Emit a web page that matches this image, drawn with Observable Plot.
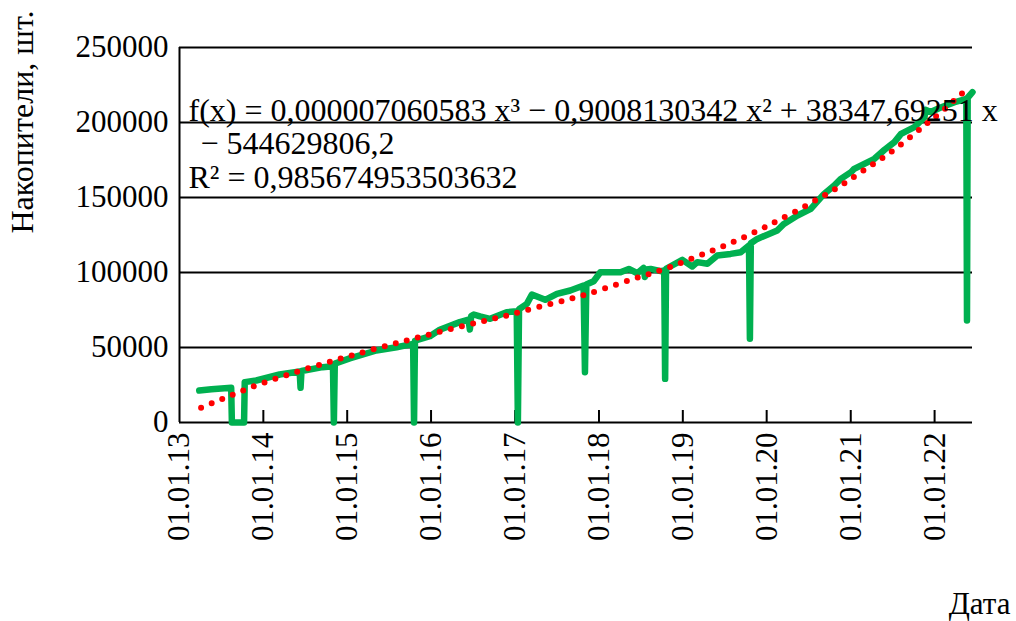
<!DOCTYPE html>
<html>
<head>
<meta charset="utf-8">
<script src="https://cdn.jsdelivr.net/npm/d3@7"></script>
<script src="https://cdn.jsdelivr.net/npm/@observablehq/plot@0.6"></script>
<style>
  html, body { margin: 0; padding: 0; background: #fff; }
</style>
</head>
<body>
<div id="chart"></div>
<script>
// ---- data ----
const seriesDates = [
  "2013-03-28","2013-05-20","2013-08-14","2013-08-17","2013-10-09","2013-10-12","2013-12-01",
  "2014-03-13","2014-06-08","2014-06-12","2014-06-16","2014-09-16","2014-10-31","2014-11-04","2014-11-08",
  "2015-01-12","2015-05-08","2015-08-04","2015-10-15","2015-10-19","2015-10-23","2015-12-27",
  "2016-02-08","2016-05-05","2016-06-12","2016-06-18","2016-06-24","2016-07-05","2016-08-01","2016-09-14","2016-11-25",
  "2017-01-08","2017-01-13","2017-01-18","2017-02-21","2017-03-15","2017-05-12","2017-07-02","2017-08-29","2017-10-26","2017-11-01","2017-11-07","2017-12-09",
  "2018-01-07","2018-04-05","2018-05-11","2018-06-17","2018-07-14","2018-07-20","2018-07-26","2018-08-14","2018-09-27","2018-10-12","2018-10-16","2018-10-20","2018-12-30",
  "2019-02-11","2019-03-05","2019-04-18","2019-05-31","2019-07-28","2019-09-10","2019-10-16","2019-10-20","2019-10-24","2019-11-21",
  "2020-02-16","2020-03-16","2020-05-14","2020-07-11","2020-09-07","2020-10-21","2020-11-19",
  "2021-01-02","2021-01-16","2021-04-14","2021-05-28","2021-07-10","2021-08-08","2021-10-05","2021-11-18","2021-11-22","2021-12-15",
  "2022-01-30","2022-03-29","2022-05-19","2022-05-22","2022-05-25","2022-06-15"
];
const seriesValues = [
  21300,22200,23100,0,0,26900,28000,
  32000,34000,23100,34300,36900,37500,0,39300,
  42700,48000,50200,52400,0,54500,57500,
  61800,66900,68500,62000,71000,72000,70700,69100,73500,
  74200,0,75500,79100,85300,81800,85800,88000,91300,33500,92000,94200,
  100200,100200,102400,99500,103100,97000,102000,102400,100900,101300,29100,102500,108400,
  104000,106900,105800,111300,112400,113500,118000,55800,119500,122400,
  128000,132400,138000,142400,152400,158000,162400,
  166900,169100,175800,181800,186900,192400,196900,203500,208500,207000,
  210200,213500,215800,68000,216500,220200
];

const trendDates = [
  "2013-04-05","2013-08-29","2014-01-21","2014-06-23","2014-11-15","2015-04-17","2015-09-17","2015-12-27",
  "2016-05-27","2016-10-27","2017-03-29","2017-08-29","2018-01-21","2018-06-24","2018-10-03","2019-02-25",
  "2019-07-21","2019-12-10","2020-04-29","2020-09-15","2020-12-11","2021-03-08","2021-06-04","2021-08-30",
  "2021-11-18","2022-02-06","2022-06-03"
];
const trendValues = [
  9800,19100,27500,35100,41800,48400,54700,58700,
  64700,70200,76400,82400,89100,96900,101800,110200,
  119100,129100,140200,152000,160200,169100,178000,188000,
  198000,208000,224000
];

const yTicks = [0, 50000, 100000, 150000, 200000, 250000];
const xTickDates = ["2013-01-01","2014-01-01","2015-01-01","2016-01-01","2017-01-01",
                    "2018-01-01","2019-01-01","2020-01-01","2021-01-01","2022-01-01"];
const xDomain = ["2013-01-01", "2022-06-15"];

const eqLine1 = "f(x) = 0,000007060583 x³ − 0,9008130342 x² + 38347,69251 x";
const eqLine2 = "− 544629806,2";
const eqLine3 = "R² = 0,985674953503632";
const yTitle = "Накопители, шт.";
const xTitle = "Дата";

// ---- build ----
const parse = d3.utcParse("%Y-%m-%d");
const series = seriesDates.map((d, i) => ({date: parse(d), value: seriesValues[i]}));
const trend = trendDates.map((d, i) => ({date: parse(d), value: trendValues[i]}));
const xTicks = xTickDates.map(parse);
const FONT = "Liberation Serif, Times New Roman, serif";

const chart = Plot.plot({
  width: 1016,
  height: 621,
  marginLeft: 179,
  marginRight: 44,
  marginTop: 47,
  marginBottom: 199,
  style: {fontFamily: FONT, fontSize: "31px", color: "#000", background: "#fff", overflow: "visible"},
  x: {type: "utc", domain: xDomain.map(parse)},
  y: {domain: [0, 250000]},
  marks: [
    Plot.ruleY(yTicks.filter(v => v > 0), {stroke: "#000", strokeWidth: 2}),
    Plot.ruleY([0], {stroke: "#000", strokeWidth: 2}),
    Plot.ruleX([xTicks[0]], {stroke: "#000", strokeWidth: 2}),
    Plot.ruleX(xTicks.slice(1), {y1: 0, y2: 8000, stroke: "#000", strokeWidth: 2}),
    Plot.axisY({ticks: yTicks, tickSize: 0, tickPadding: 11, label: null, tickFormat: d => String(d), fontSize: 31}),
    Plot.axisX({ticks: xTicks, tickSize: 0, tickPadding: 10, tickRotate: -90, label: null,
                tickFormat: d3.utcFormat("%d.%m.%y"), fontSize: 31}),
    Plot.line(series, {x: "date", y: "value", stroke: "#00B050", strokeWidth: 6.5,
                       strokeLinejoin: "round", strokeLinecap: "round"}),
    Plot.line(trend, {x: "date", y: "value", curve: "natural", stroke: "#FF0000", strokeWidth: 6,
                      strokeLinecap: "round", strokeDasharray: "0 11.4"}),
    Plot.text([eqLine1], {text: d => d, frameAnchor: "top-left", dx: 9, dy: 73, textAnchor: "start",
                          lineAnchor: "bottom", fontSize: 32, fontFamily: FONT, fill: "#000"}),
    Plot.text([eqLine2], {text: d => d, frameAnchor: "top-left", dx: 21, dy: 106, textAnchor: "start",
                          lineAnchor: "bottom", fontSize: 32, fontFamily: FONT, fill: "#000"}),
    Plot.text([eqLine3], {text: d => d, frameAnchor: "top-left", dx: 9, dy: 140, textAnchor: "start",
                          lineAnchor: "bottom", fontSize: 32, fontFamily: FONT, fill: "#000"}),
    Plot.text([yTitle], {text: d => d, frameAnchor: "top-left", dx: -157, dy: 186, rotate: -90,
                         textAnchor: "start", lineAnchor: "middle", fontSize: 32, fontFamily: FONT, fill: "#000"}),
    Plot.text([xTitle], {text: d => d, frameAnchor: "bottom-right", dx: 38, dy: 191, textAnchor: "end",
                         lineAnchor: "bottom", fontSize: 31, fontFamily: FONT, fill: "#000"})
  ]
});
document.getElementById("chart").appendChild(chart);
</script>
</body>
</html>
